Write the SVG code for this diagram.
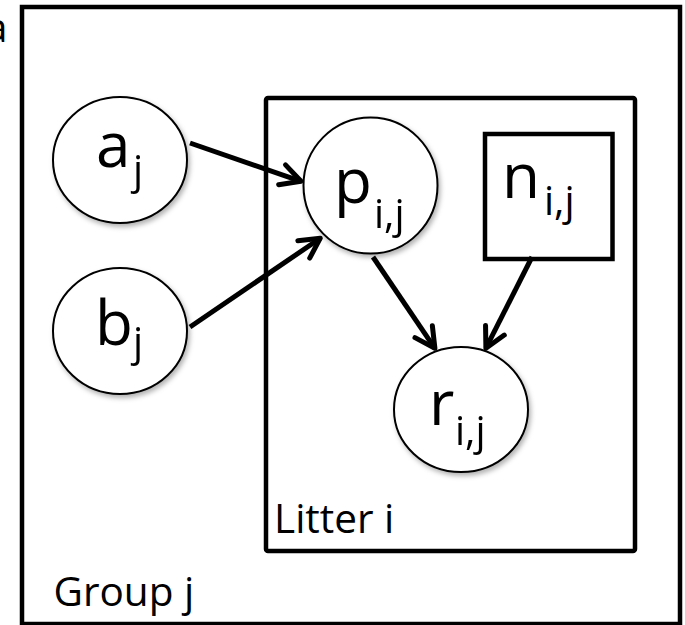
<svg xmlns="http://www.w3.org/2000/svg" width="685" height="625" viewBox="0 0 685 625">
<style>
.plate{fill:none;stroke:#000;stroke-width:4.5;}
.node{fill:#fff;stroke:#000;stroke-width:2;}
.lbl{font-family:"Open Sans","Liberation Sans",sans-serif;fill:#000;}
.main{font-size:62px;}
.sub{font-size:40px;}
.plab{font-family:"Open Sans","Liberation Sans",sans-serif;font-size:40.5px;fill:#000;}
.edge{fill:none;stroke:#000;stroke-width:5;}
</style>
<defs>
<filter id="sh" x="-20%" y="-20%" width="150%" height="150%">
<feDropShadow dx="2" dy="3" stdDeviation="2.5" flood-color="#000" flood-opacity="0.3"/>
</filter>
<marker id="arr" markerUnits="userSpaceOnUse" viewBox="-26 -16 32 32" markerWidth="32" markerHeight="32" refX="0" refY="0" orient="auto" overflow="visible">
<path d="M-20,-10.5 L0,0 L-20,10.5" fill="none" stroke="#000" stroke-width="5" stroke-linecap="round" stroke-linejoin="round"/>
</marker>
</defs>
<text class="plab" x="-15" y="42">a</text>
<g id="group-plate">
<rect class="plate" x="22" y="7" width="658" height="617" stroke-width="4"/>
<text class="plab" x="53.5" y="606">Group j</text>
</g>
<g id="litter-plate">
<rect class="plate" x="266" y="98" width="369" height="453" rx="2"/>
<text class="plab" x="274" y="533">Litter i</text>
</g>
<g id="connectors">
<line class="edge" x1="190" y1="143" x2="301" y2="181.3" marker-end="url(#arr)"/>
<line class="edge" x1="190" y1="327" x2="320.3" y2="238.2" marker-end="url(#arr)"/>
<line class="edge" x1="373" y1="257" x2="434.9" y2="348.3" marker-end="url(#arr)"/>
<line class="edge" x1="532" y1="257" x2="485.9" y2="348.2" marker-end="url(#arr)"/>
</g>
<g id="node-a" filter="url(#sh)">
<ellipse class="node" cx="120" cy="160" rx="67" ry="63"/>
<text class="lbl"><tspan class="main" x="96" y="167">a</tspan><tspan class="sub" x="133" y="184">j</tspan></text>
</g>
<g id="node-b" filter="url(#sh)">
<ellipse class="node" cx="120" cy="331" rx="67" ry="63"/>
<text class="lbl"><tspan class="main" x="95" y="345">b</tspan><tspan class="sub" x="133" y="356">j</tspan></text>
</g>
<g id="node-p" filter="url(#sh)">
<ellipse class="node" cx="370.5" cy="185.5" rx="67" ry="68"/>
<text class="lbl"><tspan class="main" x="334" y="203">p</tspan><tspan class="sub" x="374" y="228">i,j</tspan></text>
</g>
<g id="node-n">
<rect class="plate" x="485" y="134" width="127.5" height="125"/>
<text class="lbl"><tspan class="main" x="502" y="198">n</tspan><tspan class="sub" x="544" y="215">i,j</tspan></text>
</g>
<g id="node-r" filter="url(#sh)">
<ellipse class="node" cx="461" cy="409.5" rx="67" ry="62.5"/>
<text class="lbl"><tspan class="main" x="429" y="425">r</tspan><tspan class="sub" x="455" y="445">i,j</tspan></text>
</g>
</svg>
